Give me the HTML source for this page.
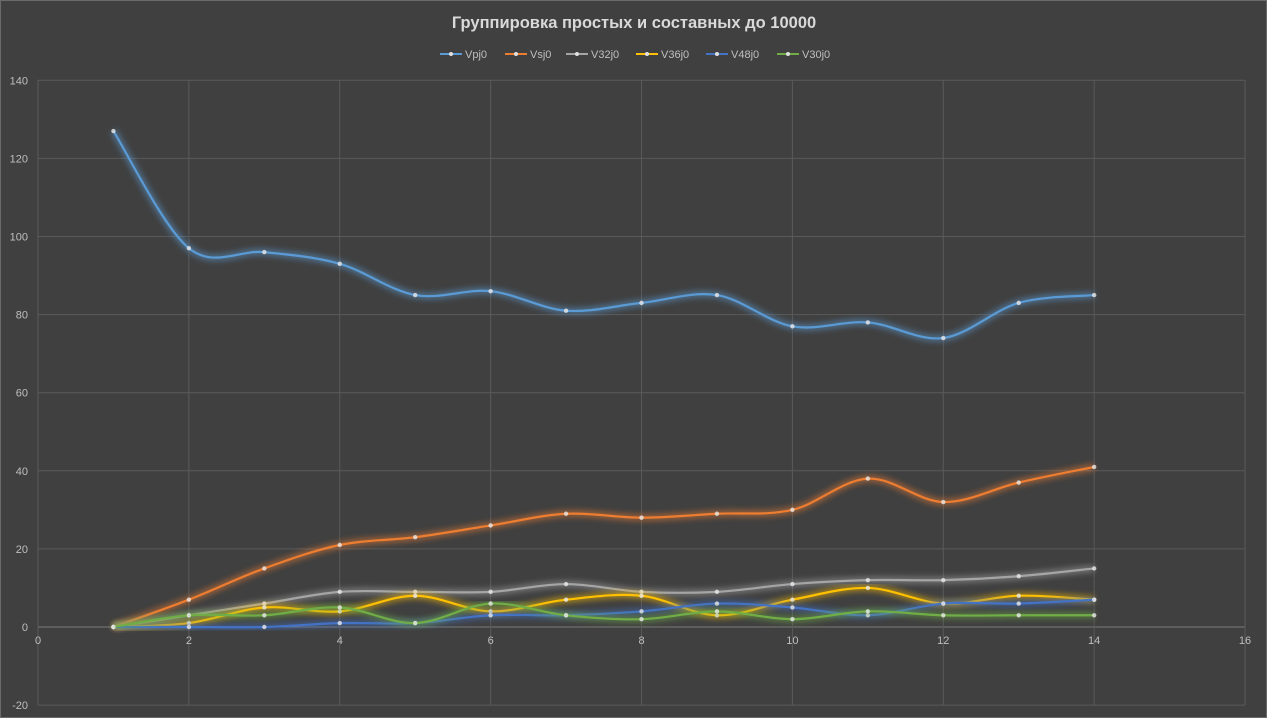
<!DOCTYPE html>
<html><head><meta charset="utf-8"><style>
body{margin:0;background:#fff;width:1280px;height:720px;overflow:hidden;font-family:"Liberation Sans",sans-serif}
</style></head><body>
<svg id="s" width="1280" height="720" xmlns="http://www.w3.org/2000/svg" style="position:absolute;left:0;top:0">
<rect width="1280" height="720" fill="#ffffff"/>
<rect x="0" y="0" width="1267" height="718" fill="#404040"/>
<rect x="0.5" y="0.5" width="1266" height="717" fill="none" stroke="#6a6a6a"/>
<defs><filter id="g" x="-10%" y="-10%" width="120%" height="120%"><feGaussianBlur stdDeviation="3"/></filter></defs>
<text x="634" y="28" text-anchor="middle" font-size="16.5" font-weight="bold" fill="#d9d9d9">Группировка простых и составных до 10000</text>
<g id="grid"></g><g id="series"></g><g id="leg" font-size="11" fill="#bfbfbf"></g>
</svg>
<script>
var NS="http://www.w3.org/2000/svg";
function el(p,t,a,txt){var e=document.createElementNS(NS,t);for(var k in a)e.setAttribute(k,a[k]);if(txt!=null)e.textContent=txt;p.appendChild(e);return e;}
function X(v){return 38+v*75.44}function Y(v){return 627-v*3.905}
var g=document.getElementById('grid');
for(var v=-20;v<=140;v+=20){el(g,'line',{x1:38,x2:1245,y1:Y(v),y2:Y(v),stroke:v==0?'#7a7a7a':'#5a5a5a','stroke-width':1});
el(g,'text',{x:28,y:Y(v)+4,'text-anchor':'end','font-size':11,fill:'#bfbfbf'},v);}
for(var u=0;u<=16;u+=2){el(g,'line',{x1:X(u),x2:X(u),y1:80,y2:705,stroke:'#5a5a5a','stroke-width':1});
el(g,'text',{x:X(u),y:644,'text-anchor':'middle','font-size':11,fill:'#bfbfbf'},u);}
var S=[
["Vpj0","#5b9bd5",[127,97,96,93,85,86,81,83,85,77,78,74,83,85]],
["Vsj0","#ed7d31",[0,7,15,21,23,26,29,28,29,30,38,32,37,41]],
["V32j0","#a5a5a5",[0,3,6,9,9,9,11,9,9,11,12,12,13,15]],
["V36j0","#ffc000",[0,1,5,4,8,4,7,8,3,7,10,6,8,7]],
["V48j0","#4472c4",[0,0,0,1,1,3,3,4,6,5,3,6,6,7]],
["V30j0","#70ad47",[0,3,3,5,1,6,3,2,4,2,4,3,3,3]]];
var sg=document.getElementById('series');
S.forEach(function(s){var p=s[2].map(function(v,i){return [X(i+1),Y(v)]});
var d="M"+p[0][0]+","+p[0][1];
for(var i=0;i<p.length-1;i++){var p0=p[Math.max(i-1,0)],p1=p[i],p2=p[i+1],p3=p[Math.min(i+2,p.length-1)];
var t=6;d+=" C"+(p1[0]+(p2[0]-p0[0])/t)+","+(p1[1]+(p2[1]-p0[1])/t)+" "+(p2[0]-(p3[0]-p1[0])/t)+","+(p2[1]-(p3[1]-p1[1])/t)+" "+p2[0]+","+p2[1];}
el(sg,'path',{d:d,fill:'none',stroke:s[1],'stroke-width':7,opacity:0.5,filter:'url(#g)'});
el(sg,'path',{d:d,fill:'none',stroke:s[1],'stroke-width':2.2});
p.forEach(function(q){el(sg,'circle',{cx:q[0],cy:q[1],r:2.2,fill:'#e8e8e8',opacity:0.8});});});
var lg=document.getElementById('leg');var lx=[440,505,566,636,706,777];
S.forEach(function(s,i){var x=lx[i];el(lg,'line',{x1:x,x2:x+22,y1:54,y2:54,stroke:s[1],'stroke-width':2});
el(lg,'circle',{cx:x+11,cy:54,r:2,fill:'#e0e0e0'});el(lg,'text',{x:x+25,y:58},s[0]);});
</script>
</body></html>
